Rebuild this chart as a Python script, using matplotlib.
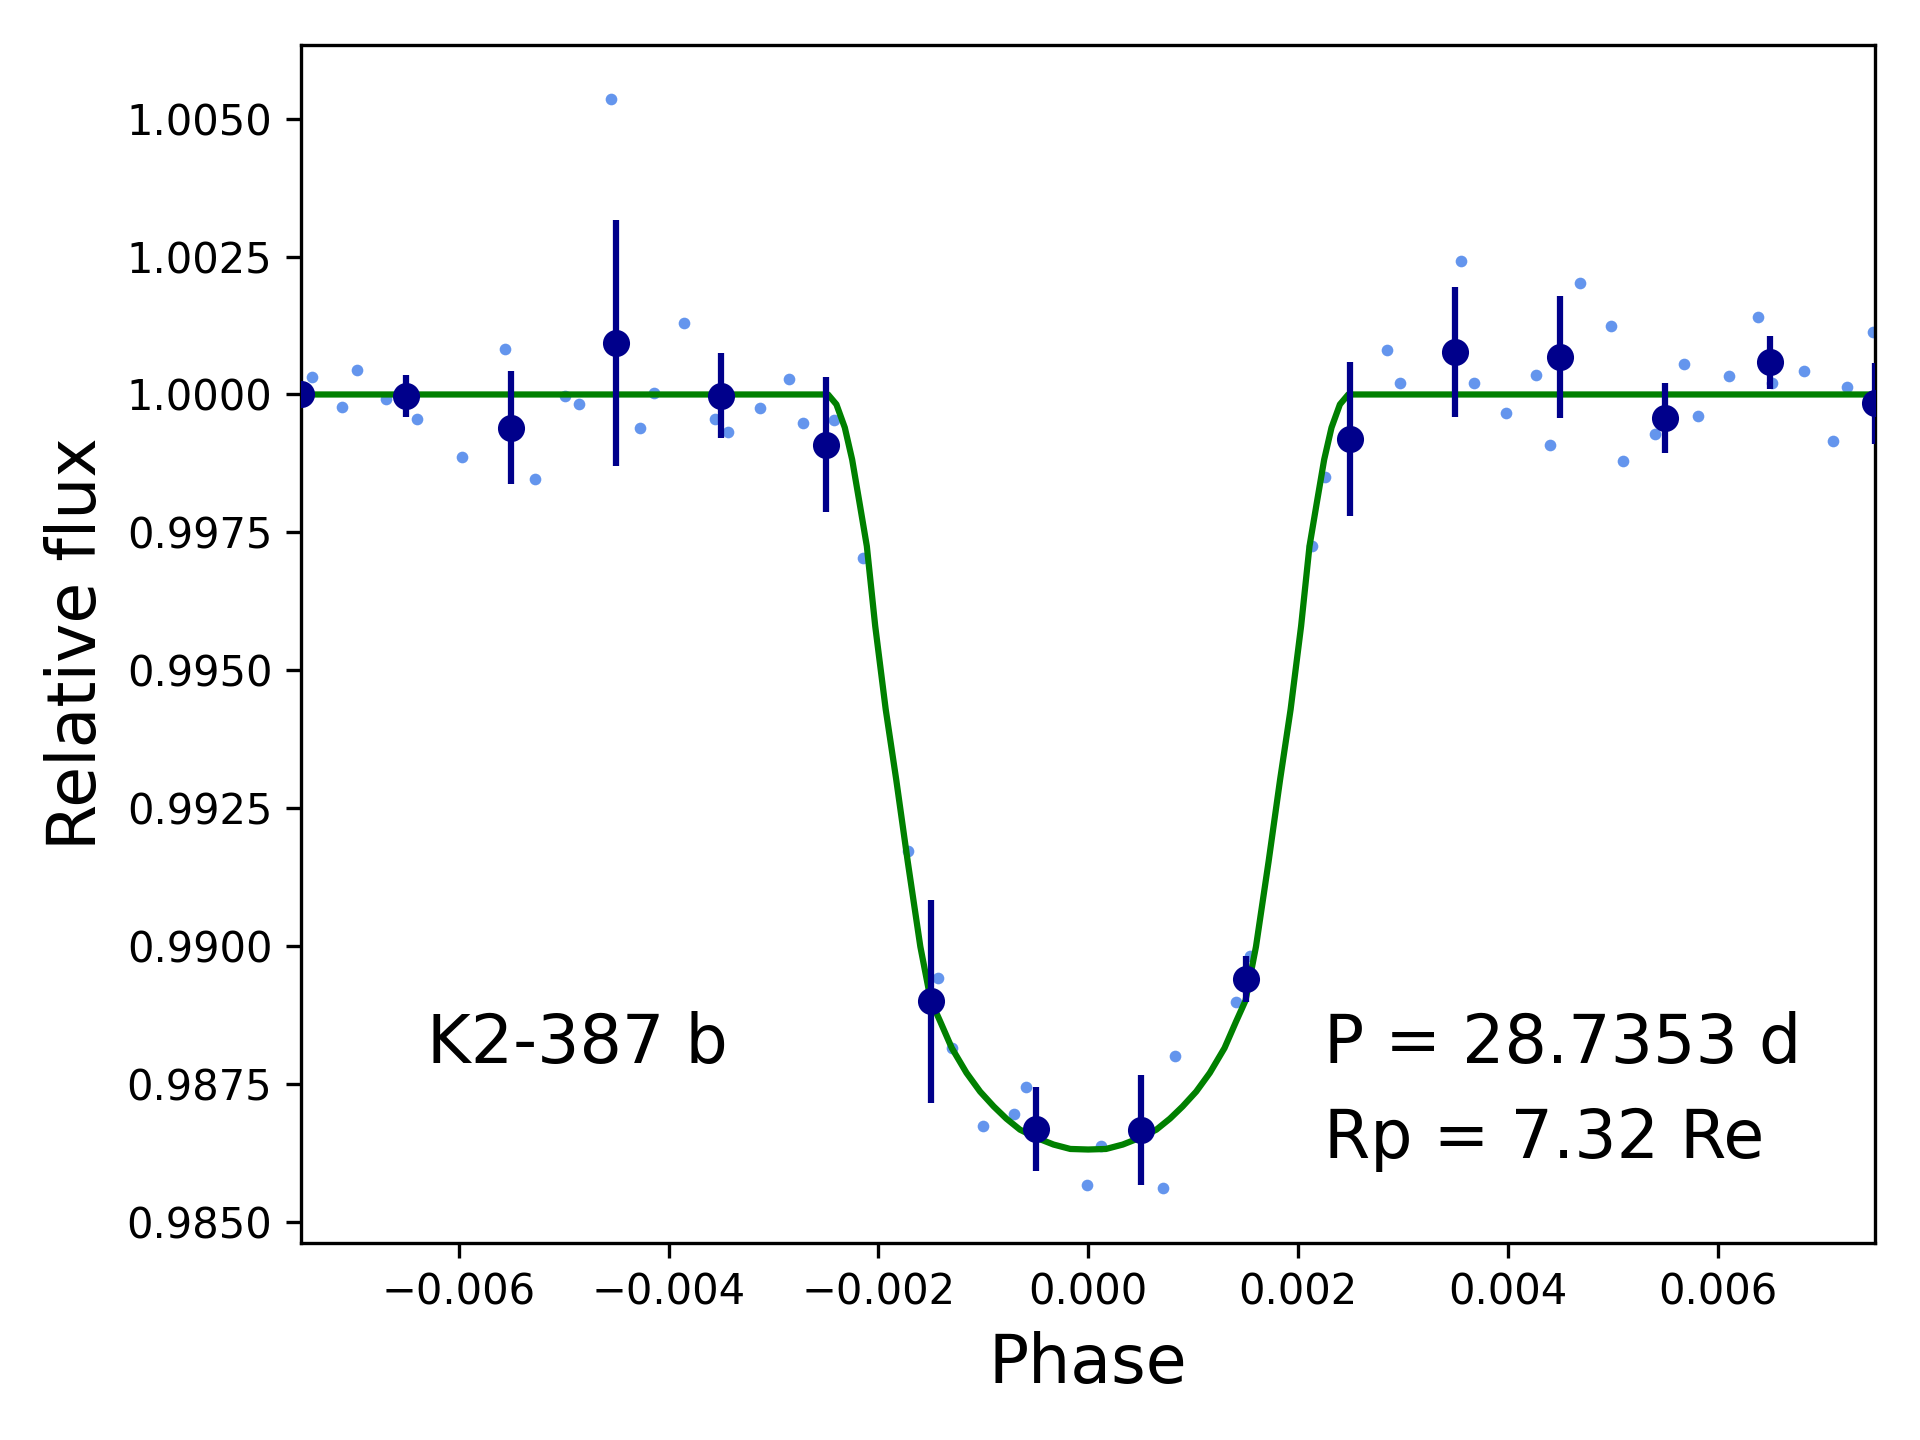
import matplotlib
matplotlib.use("Agg")
import matplotlib.pyplot as plt

# ==========================================
# DATA
# ==========================================

# unbinned phased photometry
phase_raw = [
    -0.00740, -0.00711, -0.00697, -0.00669, -0.00640, -0.00597, -0.00556,
    -0.00527, -0.00499, -0.00485, -0.00455, -0.00427, -0.00414, -0.00385,
    -0.00356, -0.00343, -0.00313, -0.00285, -0.00272, -0.00242, -0.00215,
    -0.00172, -0.00143, -0.00130, -0.00100, -0.00071, -0.00059, -0.00001,
    0.00012, 0.00071, 0.00083, 0.00141, 0.00154, 0.00213, 0.00226,
    0.00285, 0.00297, 0.00355, 0.00368, 0.00398, 0.00427, 0.00440,
    0.00469, 0.00498, 0.00510, 0.00540, 0.00568, 0.00581, 0.00611,
    0.00639, 0.00652, 0.00682, 0.00710, 0.00723, 0.00748,
]
flux_raw = [
    1.00032, 0.99977, 1.00045, 0.99991, 0.99955, 0.99887, 1.00083,
    0.99847, 0.99998, 0.99983, 1.00536, 0.99940, 1.00003, 1.00130,
    0.99955, 0.99932, 0.99976, 1.00028, 0.99949, 0.99953, 0.99704,
    0.99173, 0.98942, 0.98815, 0.98673, 0.98696, 0.98744, 0.98567,
    0.98637, 0.98561, 0.98801, 0.98898, 0.98982, 0.99726, 0.99851,
    1.00080, 1.00020, 1.00242, 1.00020, 0.99967, 1.00035, 0.99908,
    1.00203, 1.00124, 0.99879, 0.99929, 1.00055, 0.99961, 1.00033,
    1.00140, 1.00020, 1.00042, 0.99916, 1.00014, 1.00114,
]

# binned photometry
phase_bin = [
    -0.0075, -0.0065, -0.0055, -0.0045, -0.0035, -0.0025, -0.0015, -0.0005,
    0.0005, 0.0015, 0.0025, 0.0035, 0.0045, 0.0055, 0.0065, 0.0075,
]
flux_bin = [
    1.00000, 0.99998, 0.99940, 1.00093, 0.99998, 0.99909, 0.98900, 0.98668,
    0.98667, 0.98940, 0.99919, 1.00077, 1.00068, 0.99957, 1.00058, 0.99984,
]
err_bin = [
    0.00010, 0.00038, 0.00102, 0.00223, 0.00077, 0.00122, 0.00184, 0.00076,
    0.00100, 0.00042, 0.00140, 0.00117, 0.00110, 0.00064, 0.00048, 0.00073,
]

# transit model
phase_model = [
    -0.0075, -0.00248, -0.00240, -0.00232, -0.00225, -0.00218, -0.00211,
    -0.00203, -0.00193, -0.00183, -0.00172, -0.00160, -0.00150, -0.00141,
    -0.00130, -0.00116, -0.00103, -0.00090, -0.00078, -0.00065, -0.00049,
    -0.00033, -0.00017, 0.00000,
    0.00017, 0.00033, 0.00049, 0.00065, 0.00078, 0.00090, 0.00103,
    0.00116, 0.00130, 0.00141, 0.00150, 0.00160, 0.00172, 0.00183,
    0.00193, 0.00203, 0.00211, 0.00218, 0.00225, 0.00232, 0.00240,
    0.00248, 0.0075,
]
flux_model = [
    1.00000, 1.00000, 0.99982, 0.99940, 0.99882, 0.99804, 0.99725,
    0.99580, 0.99429, 0.99302, 0.99153, 0.98999, 0.98901, 0.98863,
    0.98815, 0.98770, 0.98736, 0.98709, 0.98687, 0.98667, 0.98652,
    0.98640, 0.98632, 0.98631,
    0.98632, 0.98640, 0.98652, 0.98667, 0.98687, 0.98709, 0.98736,
    0.98770, 0.98815, 0.98863, 0.98901, 0.98999, 0.99153, 0.99302,
    0.99429, 0.99580, 0.99725, 0.99804, 0.99882, 0.99940, 0.99982,
    1.00000, 1.00000,
]

planet_name = "K2-387 b"
period_text = "P = 28.7353 d"
radius_text = "Rp = 7.32 Re"

# ==========================================
# PLOT
# ==========================================

fig, ax = plt.subplots(figsize=(6.4, 4.8), dpi=300)
fig.subplots_adjust(left=0.157, right=0.9765, top=0.9685, bottom=0.137)

ax.plot(
    phase_raw, flux_raw, "o",
    color="cornflowerblue", ms=2.8, mew=0, zorder=1
)

ax.plot(
    phase_model, flux_model,
    color="green", lw=1.5, zorder=2
)

ax.errorbar(
    phase_bin, flux_bin, yerr=err_bin,
    fmt="o", color="darkblue", ms=5.5, elinewidth=1.5,
    capsize=0, zorder=3
)

ax.set_xlim(-0.0075, 0.0075)
ax.set_ylim(0.98462, 1.00633)

ax.text(-0.0063, 0.98788, planet_name, fontsize=16)
ax.text(0.00225, 0.98788, period_text, fontsize=16)
ax.text(0.00225, 0.98616, radius_text, fontsize=16)

ax.set_xlabel("Phase", fontsize=16)
ax.set_ylabel("Relative flux", fontsize=16)

fig.savefig("out.png", dpi=300)
